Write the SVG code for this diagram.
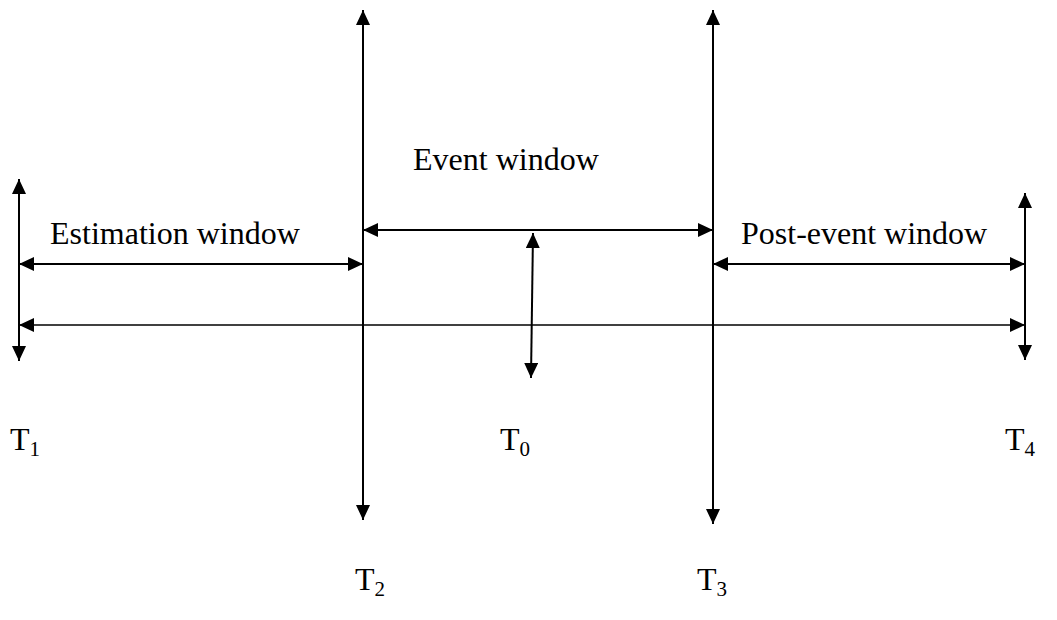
<svg xmlns="http://www.w3.org/2000/svg" width="1057" height="620" viewBox="0 0 1057 620">
<style>
.ln{stroke:#000;stroke-width:2;fill:none;marker-start:url(#ah);marker-end:url(#ah)}
.ax{stroke-width:1.6}
text{font-family:"Liberation Serif","Times New Roman",serif;font-size:32px;fill:#000}
.sub{font-size:21px}
</style>
<defs>
<marker id="ah" markerUnits="userSpaceOnUse" markerWidth="16" markerHeight="14" refX="15" refY="7" orient="auto-start-reverse" viewBox="0 0 16 14">
<path d="M0,0 L15,7 L0,14 z" fill="#000"/>
</marker>
</defs>
<rect width="1057" height="620" fill="#fff"/>
<g id="connectors">
<line class="ln" x1="19" y1="179" x2="19" y2="361"/>
<line class="ln" x1="363" y1="10" x2="363" y2="520"/>
<line class="ln" x1="713" y1="10" x2="713" y2="524"/>
<line class="ln" x1="1025" y1="193" x2="1025" y2="360"/>
<line class="ln" x1="19" y1="264" x2="363" y2="264"/>
<line class="ln" x1="363" y1="230" x2="713" y2="230"/>
<line class="ln" x1="713" y1="264" x2="1025" y2="264"/>
<line class="ln ax" x1="19" y1="325" x2="1025" y2="325"/>
<line class="ln" x1="533" y1="233" x2="531" y2="378"/>
</g>
<g id="label-estimation"><text x="50" y="244">Estimation window</text></g>
<g id="label-event"><text x="413" y="170">Event window</text></g>
<g id="label-post"><text x="741" y="244">Post-event window</text></g>
<g id="label-T1"><text x="10" y="450">T<tspan class="sub" dy="6">1</tspan></text></g>
<g id="label-T0"><text x="500" y="450">T<tspan class="sub" dy="6">0</tspan></text></g>
<g id="label-T4"><text x="1005" y="450">T<tspan class="sub" dy="6">4</tspan></text></g>
<g id="label-T2"><text x="355" y="590">T<tspan class="sub" dy="6">2</tspan></text></g>
<g id="label-T3"><text x="697" y="590">T<tspan class="sub" dy="6">3</tspan></text></g>
</svg>
